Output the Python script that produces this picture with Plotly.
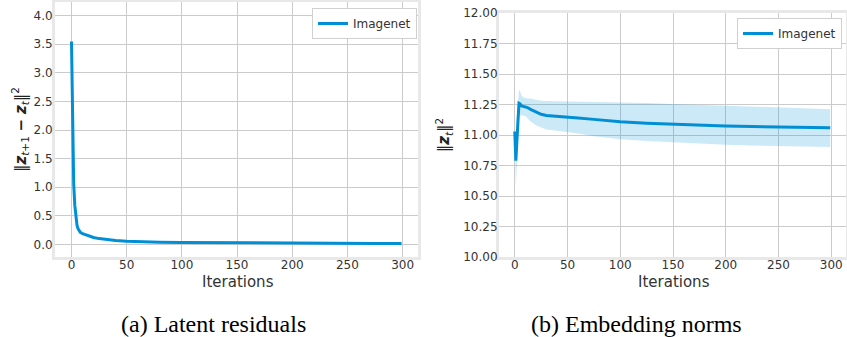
import plotly.graph_objects as go

# ---- data ----
res_iter = [0, 1, 2, 3, 4, 5, 6, 7, 8, 10, 12, 15, 20, 25, 30, 40, 50, 60, 80,
            100, 125, 150, 175, 200, 225, 250, 275, 299]
res_val = [3.55, 1.70, 1.05, 0.68, 0.45, 0.33, 0.27, 0.23, 0.21, 0.185, 0.17,
           0.15, 0.12, 0.10, 0.085, 0.065, 0.052, 0.045, 0.037, 0.032, 0.028,
           0.025, 0.022, 0.020, 0.018, 0.016, 0.015, 0.014]

norm_iter = [0, 1, 2, 3, 4, 5, 6, 8, 10, 12, 15, 20, 25, 30, 40, 50, 60, 75,
             100, 125, 150, 175, 200, 225, 250, 275, 299]
norm_mean = [11.03, 10.79, 10.95, 11.11, 11.26, 11.255, 11.24, 11.235, 11.23,
             11.225, 11.21, 11.19, 11.17, 11.16, 11.155, 11.148, 11.14, 11.128,
             11.108, 11.097, 11.088, 11.08, 11.074, 11.069, 11.065, 11.062, 11.06]
norm_upper = [11.05, 11.00, 11.15, 11.30, 11.37, 11.36, 11.33, 11.31, 11.305,
              11.30, 11.30, 11.29, 11.28, 11.278, 11.277, 11.276, 11.275, 11.272,
              11.268, 11.262, 11.255, 11.248, 11.24, 11.232, 11.225, 11.218, 11.212]
norm_lower = [11.00, 10.58, 10.75, 10.95, 11.15, 11.165, 11.16, 11.16, 11.155,
              11.14, 11.11, 11.08, 11.06, 11.045, 11.035, 11.025, 11.012, 10.99,
              10.966, 10.95, 10.938, 10.928, 10.92, 10.914, 10.909, 10.905, 10.902]

series_name = "Imagenet"
x_title = "Iterations"
x_ticks = [0, 50, 100, 150, 200, 250, 300]
left_yticks = [0.0, 0.5, 1.0, 1.5, 2.0, 2.5, 3.0, 3.5, 4.0]
right_yticks = [10.0, 10.25, 10.5, 10.75, 11.0, 11.25, 11.5, 11.75, 12.0]
captions = ["(a) Latent residuals", "(b) Embedding norms"]

W, H = 847, 337
BLUE = "#008fd5"
FILL = "rgba(0,143,213,0.2)"
GRID = "#cbcbcb"
FRAME = "#e8e8e8"
FONT = "DejaVu Sans"
TXT = "#333"

fig = go.Figure()

fig.add_trace(go.Scatter(x=res_iter, y=res_val, mode="lines", name=series_name,
                         line=dict(color=BLUE, width=3), xaxis="x", yaxis="y",
                         legend="legend"))

fig.add_trace(go.Scatter(x=norm_iter, y=norm_upper, mode="lines",
                         line=dict(width=0), showlegend=False, hoverinfo="skip",
                         xaxis="x2", yaxis="y2"))
fig.add_trace(go.Scatter(x=norm_iter, y=norm_lower, mode="lines",
                         line=dict(width=0), fill="tonexty", fillcolor=FILL,
                         showlegend=False, hoverinfo="skip",
                         xaxis="x2", yaxis="y2"))
fig.add_trace(go.Scatter(x=norm_iter, y=norm_mean, mode="lines", name=series_name,
                         line=dict(color=BLUE, width=3), xaxis="x2", yaxis="y2",
                         legend="legend2"))


def px(v):
    return v / W


def py(v):
    return 1 - v / H


common_axis = dict(showgrid=True, gridcolor=GRID, gridwidth=1, zeroline=False,
                   showline=True, mirror=True, linecolor=FRAME, linewidth=3,
                   ticks="", tickfont=dict(family=FONT, size=12, color=TXT),
                   automargin=False)

fig.update_layout(
    width=W, height=H,
    margin=dict(l=0, r=0, t=0, b=0, autoexpand=False),
    paper_bgcolor="white", plot_bgcolor="white",
    font=dict(family=FONT, color=TXT),
    xaxis=dict(domain=[px(55), px(418)], range=[-14.95, 313.95],
               tickvals=x_ticks, anchor="y", ticklabelstandoff=-5,
               **common_axis),
    yaxis=dict(domain=[py(257), py(2)], range=[-0.222, 4.24],
               tickvals=left_yticks, tickformat=".1f", anchor="x",
               ticklabelstandoff=-3,
               title=dict(text="‖<b><i>z</i></b><sub><i>t</i>+1</sub> <b>−</b> <b><i>z</i></b><sub><i>t</i></sub>‖<sup>2</sup>",
                          font=dict(size=15, family=FONT, color="#222"), standoff=4),
               **common_axis),
    xaxis2=dict(domain=[px(499), px(846)], range=[-14.95, 313.95],
                tickvals=x_ticks, anchor="y2", ticklabelstandoff=-5,
                **common_axis),
    yaxis2=dict(domain=[py(257), py(13)], range=[10, 12],
                tickvals=right_yticks, tickformat=".2f", anchor="x2",
                ticklabelstandoff=-4,
                title=dict(text="‖<b><i>z</i></b><sub><i>t</i></sub>‖<sup>2</sup>",
                           font=dict(size=15, family=FONT, color="#222"), standoff=10),
                **common_axis),
    legend=dict(x=px(417), y=py(8), xanchor="right", yanchor="top",
                bgcolor="white", bordercolor="#d0d0d0", borderwidth=1,
                itemwidth=30,
                font=dict(family=FONT, size=12, color=TXT)),
    legend2=dict(x=px(842), y=py(18), xanchor="right", yanchor="top",
                 bgcolor="white", bordercolor="#d0d0d0", borderwidth=1,
                 itemwidth=30,
                 font=dict(family=FONT, size=12, color=TXT)),
    showlegend=True,
)

# x-axis titles (placed as annotations for exact vertical position)
for cx in [(72.3 + 403) / 2, (514.3 + 832.7) / 2]:
    fig.add_annotation(x=px(cx), y=py(282), xref="paper", yref="paper",
                       text=x_title, showarrow=False, xanchor="center", yanchor="middle",
                       font=dict(family=FONT, size=15, color=TXT))

for cx, text in zip([213, 636], captions):
    fig.add_annotation(x=px(cx), y=py(324), xref="paper", yref="paper",
                       text=text, showarrow=False, xanchor="center", yanchor="middle",
                       font=dict(family="Liberation Serif", size=24, color="black"))

fig.write_html("out.html")
